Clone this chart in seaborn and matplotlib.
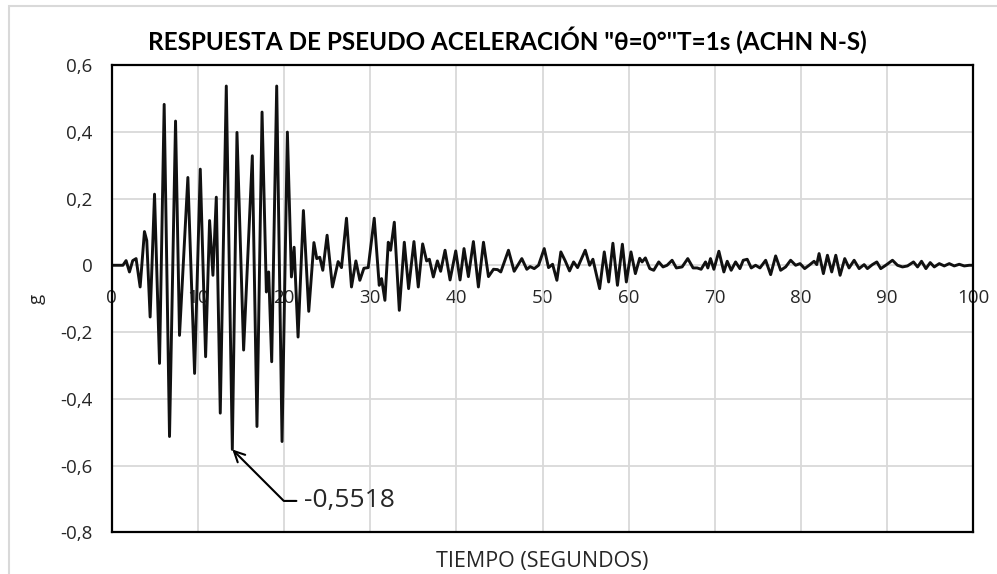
import matplotlib
matplotlib.use("Agg")
import matplotlib.pyplot as plt
import seaborn as sns
import pandas as pd
from matplotlib.patches import Rectangle

# ---------------- data ----------------
tiempo = [0, 1.3, 1.67, 2.06, 2.44, 2.83, 3.30, 3.80, 4.07, 4.46, 4.97, 5.55, 6.09, 6.71, 7.41, 7.87,
          8.84, 9.62, 10.28, 10.90, 11.36, 11.75, 12.14, 12.6, 13.30, 14.0, 14.54, 15.31, 16.32, 16.86,
          17.45, 17.95, 18.22, 18.57, 19.15, 19.77, 20.39, 20.86, 21.17, 21.63, 22.25, 22.87, 23.47,
          23.8, 24.15, 24.5, 25.0, 25.62, 26.28, 26.67, 27.25, 27.83, 28.34, 28.80, 29.27, 29.77,
          30.47, 31.05, 31.32, 31.71, 32.10, 32.37, 32.80, 33.38, 33.96, 34.46, 35.08, 35.58, 36.09,
          36.55, 36.87, 37.33, 37.80, 38.18, 38.69, 39.27, 39.93, 40.43, 40.89, 41.40, 41.98, 42.56,
          43.15, 43.73, 44.31, 44.78, 45.16, 46.05, 46.71, 47.60, 48.18, 48.57, 49.04, 49.54, 50.20,
          50.70, 51.17, 51.67, 52.13, 52.64, 53.14, 53.61, 54.07, 54.96, 55.47, 55.85, 56.63, 57.17,
          57.68, 58.17, 58.7, 59.27, 59.73, 60.27, 60.78, 61.28, 61.56, 61.94, 62.45, 62.91, 63.49,
          63.99, 64.46, 65.04, 65.54, 66.2, 66.86, 67.48, 67.95, 68.41, 68.92, 69.19, 69.5, 69.89,
          70.47, 71.05, 71.44, 71.9, 72.41, 72.91, 73.30, 73.76, 74.23, 74.73, 75.24, 75.9, 76.48,
          77.06, 77.64, 78.22, 78.8, 79.38, 79.89, 80.43, 80.94, 81.52, 81.83, 82.1, 82.6, 83.07,
          83.57, 84.04, 84.54, 85.08, 85.58, 86.17, 86.75, 87.33, 87.71, 88.29, 88.8, 89.26, 89.84,
          90.62, 91.20, 91.78, 92.36, 93.06, 93.53, 93.99, 94.5, 95.0, 95.47, 96.05, 96.63, 97.21,
          97.79, 98.37, 98.95, 99.53, 100]
aceleracion = [0, 0, 0.014, -0.02, 0.014, 0.02, -0.065, 0.101, 0.074, -0.155, 0.213, -0.294, 0.482,
               -0.513, 0.432, -0.21, 0.263, -0.324, 0.288, -0.274, 0.134, -0.03, 0.204, -0.443, 0.537,
               -0.5518, 0.398, -0.254, 0.328, -0.483, 0.459, -0.08, -0.02, -0.289, 0.537, -0.528,
               0.399, -0.035, 0.054, -0.215, 0.164, -0.138, 0.068, 0.02, 0.024, -0.015, 0.09, -0.065,
               0.011, -0.007, 0.141, -0.065, 0.013, -0.045, -0.009, -0.007, 0.141, -0.06, -0.04,
               -0.105, 0.069, 0.045, 0.129, -0.135, 0.069, -0.07, 0.071, -0.065, 0.064, 0.013, 0.018,
               -0.035, 0.013, -0.018, 0.045, -0.044, 0.043, -0.044, 0.05, -0.034, 0.071, -0.065,
               0.069, -0.034, -0.012, -0.013, -0.02, 0.045, -0.018, 0.02, -0.012, -0.004, -0.01, 0.0,
               0.05, -0.007, 0.003, -0.045, 0.04, 0.013, -0.017, 0.01, -0.007, 0.045, 0.0, 0.018,
               -0.07, 0.04, -0.05, 0.066, -0.06, 0.063, -0.05, 0.04, -0.025, 0.021, 0.01, 0.022,
               -0.01, -0.015, 0.01, -0.005, 0.0, 0.015, -0.008, -0.005, 0.02, -0.008, -0.008, -0.012,
               0.01, -0.008, 0.02, -0.012, 0.042, -0.02, 0.012, -0.015, 0.01, -0.01, 0.015, 0.018,
               -0.008, 0.0, -0.008, 0.015, -0.028, 0.028, -0.015, -0.005, 0.015, 0.0, 0.005, -0.01,
               0.0, 0.012, 0.002, 0.035, -0.025, 0.03, -0.02, 0.03, -0.03, 0.02, -0.008, 0.015,
               -0.01, 0.002, -0.01, 0.002, 0.01, -0.01, 0.0, 0.015, 0.0, -0.005, -0.002, 0.01,
               -0.005, 0.012, -0.01, 0.008, -0.005, 0.005, -0.002, 0.005, -0.002, 0.003, -0.002, 0.0, 0.0]

x_ticks = [0, 10, 20, 30, 40, 50, 60, 70, 80, 90, 100]
x_tick_labels = ["0", "10", "20", "30", "40", "50", "60", "70", "80", "90", "100"]
y_ticks = [0.6, 0.4, 0.2, 0.0, -0.2, -0.4, -0.6, -0.8]
y_tick_labels = ["0,6", "0,4", "0,2", "0", "-0,2", "-0,4", "-0,6", "-0,8"]

titulo = "RESPUESTA DE PSEUDO ACELERACIÓN \"θ=0°''T=1s (ACHN N-S)"
x_label = "TIEMPO (SEGUNDOS)"
y_label = "g"
pico_t, pico_v = 14.0, -0.5518
pico_texto = "-0,5518"

# ---------------- styling ----------------
sns.set_theme(style="white")
plt.rcParams["font.family"] = ["Open Sans", "DejaVu Sans"]

fig = plt.figure(figsize=(9.97, 5.74), dpi=100)
W, H = 997, 574
ax = fig.add_axes([111.7 / W, 1 - 532.3 / H, (973.3 - 111.7) / W, (532.3 - 65) / H])

df = pd.DataFrame({"t": tiempo, "g": aceleracion})
sns.lineplot(data=df, x="t", y="g", ax=ax, color="#111111", linewidth=2.1,
             sort=False, estimator=None, solid_joinstyle="round")

ax.set_xlim(0, 100)
ax.set_ylim(-0.8, 0.6)
ax.set_xticks(x_ticks)
ax.set_xticklabels([])
ax.set_yticks(y_ticks)
ax.set_yticklabels(y_tick_labels, fontsize=13.5, color="#262626")
ax.tick_params(axis="both", length=0)
ax.tick_params(axis="y", pad=14)
ax.grid(True, color="#d9d9d9", linewidth=1.3)
ax.set_axisbelow(True)
for s in ax.spines.values():
    s.set_visible(True)
    s.set_color("#000000")
    s.set_linewidth(1.6)

ax.set_xlabel(x_label, fontsize=15.5, color="#262626", labelpad=10)
ax.set_ylabel(y_label, fontsize=13.5, color="#262626", labelpad=10)

# x tick labels sit on the zero line
loc0 = (0 - (-0.8)) / 1.4
sec = ax.secondary_xaxis(loc0)
sec.set_alignment("bottom")
sec.set_xticks(x_ticks)
sec.set_xticklabels(x_tick_labels, fontsize=13.5, color="#262626")
sec.tick_params(axis="x", length=0, pad=17)
for s in sec.spines.values():
    s.set_visible(False)

# annotation of the minimum
ax.annotate(pico_texto, xy=(pico_t, pico_v), xytext=(22.3, -0.706),
            fontsize=19, color="#262626", ha="left", va="center",
            arrowprops=dict(arrowstyle="->,head_length=0.4,head_width=0.2", color="black",
                            lw=1.5, shrinkA=3, shrinkB=0,
                            connectionstyle="angle,angleA=0,angleB=135,rad=0"))

fig.text(507.5 / W, 1 - 40 / H, titulo, ha="center", va="center", fontsize=17.5,
         fontweight="bold", family=["Lato", "DejaVu Sans"], color="black")

# light frame of the chart area (left and top edges visible)
fig.patches.append(Rectangle((9 / W, -0.05), 1.2, 1 - 6 / H + 0.05, transform=fig.transFigure,
                             fill=False, edgecolor="#d9d9d9", linewidth=1.5))

fig.savefig("out.png", dpi=100)
